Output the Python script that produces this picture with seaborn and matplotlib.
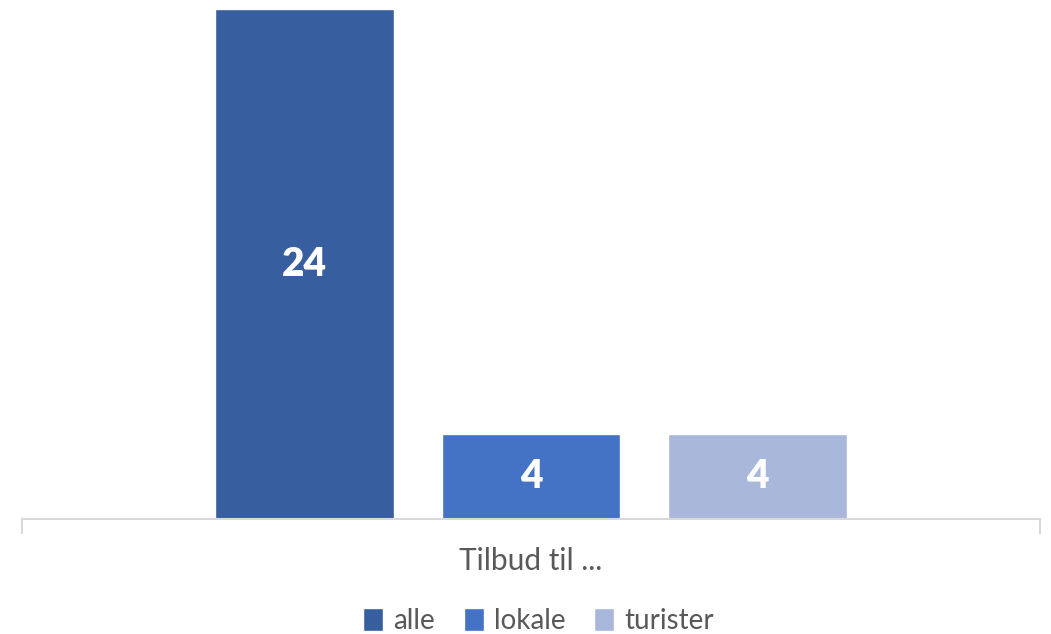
import pandas as pd
import matplotlib.pyplot as plt
import seaborn as sns

sns.set_style("white")
plt.rcParams['font.family'] = ['Lato', 'DejaVu Sans']

# data
category = ["Tilbud til ..."]
series = ["alle", "lokale", "turister"]
values = [24, 4, 4]
colors = ["#375FA0", "#4472C4", "#A9B7DB"]

df = pd.DataFrame({
    "gruppe": category * len(series),
    "serie": series,
    "antall": values,
})

fig = plt.figure(figsize=(10.51, 6.34), dpi=100)
ax = fig.add_axes([22 / 1051, 115 / 634, 1018 / 1051, 510 / 634])

sns.barplot(data=df, x="gruppe", y="antall", hue="serie", palette=colors,
            saturation=1, width=0.667, gap=0.212, ax=ax)

for cont in ax.containers:
    ax.bar_label(cont, label_type="center", color="white",
                 fontsize=28, fontweight="heavy")

ax.set_xlim(-0.5, 0.5)
ax.set_ylim(0, 24)
ax.set_xlabel("")
ax.set_ylabel("")
ax.set_yticks([])
for side in ["top", "left", "right"]:
    ax.spines[side].set_visible(False)
ax.spines["bottom"].set_color("#D9D9D9")
ax.spines["bottom"].set_linewidth(1.5)

ax.tick_params(axis="x", which="major", length=0, pad=20,
               labelsize=21.5, labelcolor="#595959")
ax.set_xticks([-0.5, 0.5], minor=True)
ax.tick_params(axis="x", which="minor", bottom=True, length=11, width=1.5,
               color="#D9D9D9")

handles, labels = ax.get_legend_handles_labels()
ax.legend_.remove()
fig.legend(handles, labels, loc="center", bbox_to_anchor=(0.5124, 0.021),
           ncol=3, frameon=False, fontsize=20, labelcolor="#595959",
           handlelength=0.72, handleheight=0.9, handletextpad=0.35,
           columnspacing=1.05)

plt.savefig("out.png", dpi=100)
